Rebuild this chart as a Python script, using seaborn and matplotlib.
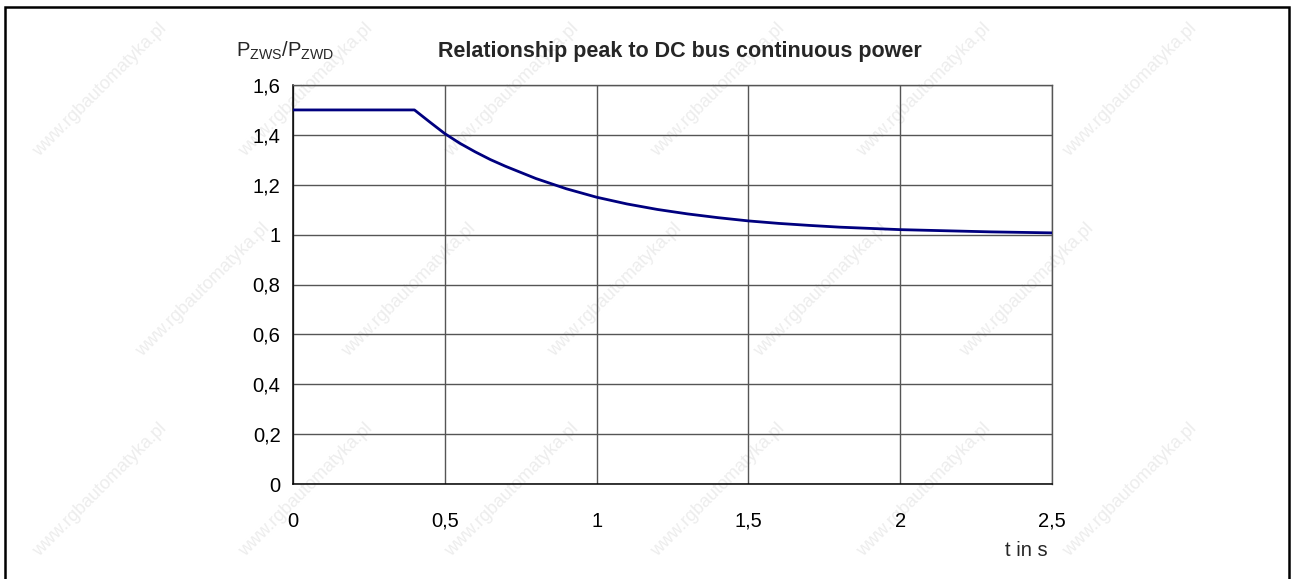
import numpy as np
import pandas as pd
import matplotlib
matplotlib.use("Agg")
import matplotlib.pyplot as plt
import matplotlib.patches as mpatches
import seaborn as sns

# Peak-to-continuous DC bus power ratio over time
time_s = [0.0, 0.4, 0.45, 0.5, 0.55, 0.6, 0.65, 0.7, 0.8, 0.9, 1.0, 1.1,
          1.2, 1.3, 1.4, 1.5, 1.6, 1.7, 1.8, 1.9, 2.0, 2.1, 2.2, 2.3, 2.4,
          2.5]
power_ratio = [1.5, 1.5, 1.452, 1.405, 1.366, 1.332, 1.301, 1.274, 1.225,
               1.184, 1.150, 1.123, 1.101, 1.083, 1.068, 1.055, 1.045, 1.037,
               1.030, 1.025, 1.020, 1.017, 1.014, 1.011, 1.009, 1.007]
x_ticks = [0, 0.5, 1, 1.5, 2, 2.5]
x_tick_labels = ["0", "0,5", "1", "1,5", "2", "2,5"]
y_ticks = [0, 0.2, 0.4, 0.6, 0.8, 1.0, 1.2, 1.4, 1.6]
y_tick_labels = ["0", "0,2", "0,4", "0,6", "0,8", "1", "1,2", "1,4", "1,6"]

sns.set_theme(style="white")
plt.rcParams["font.family"] = ["Liberation Sans", "DejaVu Sans"]
plt.rcParams["mathtext.fontset"] = "custom"
plt.rcParams["mathtext.rm"] = "Liberation Sans"
plt.rcParams["mathtext.it"] = "Liberation Sans"

W, H = 1295, 579
fig = plt.figure(figsize=(W / 100, H / 100), dpi=100)
fig.patch.set_facecolor("white")

# faint repeated site watermark, kept inside the frame
for row, yc in enumerate(range(90, 520, 200)):
    for xc in range(100 + (row % 2) * 103, 1230, 206):
        fig.text(xc / W, 1 - yc / H, "www.rgbautomatyka.pl", rotation=45,
                 fontsize=13, color="#ededed", ha="center", va="center",
                 zorder=-5)

# frame around the figure
fig.add_artist(mpatches.Rectangle((5 / W, -0.05), (1289 - 5) / W,
                                  1 - 7 / H + 0.05, transform=fig.transFigure,
                                  fill=False, edgecolor="black", linewidth=1.8,
                                  zorder=1))

ax = fig.add_axes([293 / W, 1 - 484 / H, (1052 - 293) / W, (484 - 85) / H])
ax.patch.set_alpha(0)

df = pd.DataFrame({"t": time_s, "ratio": power_ratio})
sns.lineplot(data=df, x="t", y="ratio", ax=ax, color="#00007f",
             linewidth=2.0, zorder=3)

ax.set_xlim(0, 2.5)
ax.set_ylim(0, 1.6)
ax.set_xticks(x_ticks)
ax.set_xticklabels(x_tick_labels)
ax.set_yticks(y_ticks)
ax.set_yticklabels(y_tick_labels)
ax.set_xlabel("")
ax.set_ylabel("")
ax.tick_params(axis="both", which="both", direction="out", length=5,
               width=1, color="#333333", labelsize=14.5, labelcolor="black")
ax.tick_params(axis="x", pad=15)
ax.tick_params(axis="y", pad=4)

ax.grid(True, color="#555555", linewidth=1.0)
ax.set_axisbelow(True)
for side in ("left", "bottom"):
    ax.spines[side].set_color("black")
    ax.spines[side].set_linewidth(1.1)
for side in ("top", "right"):
    ax.spines[side].set_color("#555555")
    ax.spines[side].set_linewidth(1.0)

fig.text(680 / W, 1 - 51 / H, "Relationship peak to DC bus continuous power",
         fontsize=15.5, fontweight="bold", ha="center", va="center")
fig.text(285 / W, 1 - 51 / H,
         r"P$_{\mathrm{ZWS}}$/P$_{\mathrm{ZWD}}$",
         fontsize=14.5, ha="center", va="center")
fig.text(1048 / W, 1 - 550 / H, "t in s", fontsize=14.5, ha="right",
         va="center")

fig.savefig("out.png", dpi=100)
